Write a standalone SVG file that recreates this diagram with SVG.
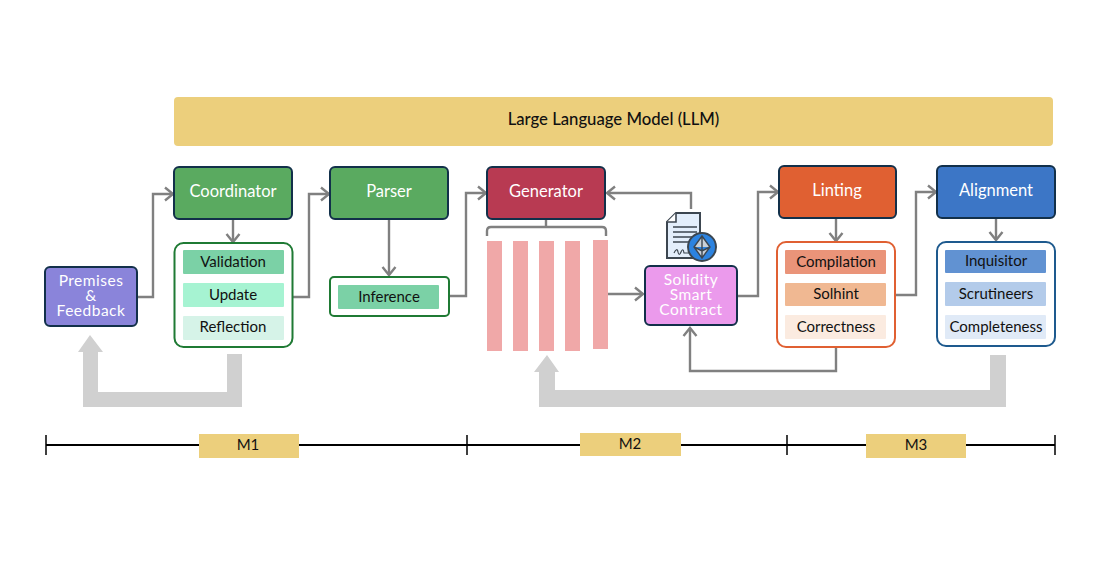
<svg xmlns="http://www.w3.org/2000/svg" width="1114" height="562" viewBox="0 0 1114 562">
<style>
text{font-family:Lato,"Liberation Sans",sans-serif;text-anchor:middle;dominant-baseline:central}
.w{fill:#fff;font-size:16.5px}
.s{fill:#fff;font-size:15.5px;letter-spacing:.5px}
.b{fill:#111;font-size:15px}
.hd{stroke:#12304a;stroke-width:2}
.c{fill:none;stroke:#808080;stroke-width:2.4}
.g{fill:#d0d0d0}
.y{fill:#eccf7c}
.t{stroke:#000;fill:none}
.p{fill:#f0a8a8}
</style>
<defs>
<marker id="a" markerUnits="userSpaceOnUse" markerWidth="14" markerHeight="16" refX="11" refY="8" orient="auto"><path d="M3 1.500L11 8L3 14.500" fill="none" stroke="#808080" stroke-width="2.400"/></marker>
</defs>
<rect width="1114" height="562" fill="#fff"/>
<g id="connectors">
<path class="c" marker-end="url(#a)" d="M138 297H153V194H173"/>
<path class="c" marker-end="url(#a)" d="M233 220V242"/>
<path class="c" marker-end="url(#a)" d="M293 297H309V194H329"/>
<path class="c" marker-end="url(#a)" d="M389 220V275"/>
<path class="c" marker-end="url(#a)" d="M449 296H466V193H486"/>
<path class="c" marker-end="url(#a)" d="M691 209V193H607"/>
<path class="c" d="M546 220V227M487 236V231Q487 227 491 227H602Q606 227 606 231V236"/>
<path class="c" marker-end="url(#a)" d="M608 294H643"/>
<path class="c" marker-end="url(#a)" d="M738 296H758V192H778"/>
<path class="c" marker-end="url(#a)" d="M836 219V241"/>
<path class="c" marker-end="url(#a)" d="M896 295H916V192H936"/>
<path class="c" marker-end="url(#a)" d="M996 219V240"/>
<path class="c" marker-end="url(#a)" d="M836 348V371H690V328"/>
<path class="g" d="M242 354V407H83V352H78L90 335L103 352H98V392H227V354Z"/>
<path class="g" d="M1006 355V407H539V372H534L547 355L559 372H555V390H990V355Z"/>
</g>
<g id="llm"><rect x="174" y="97" width="879" height="49" rx="4" class="y"/><text x="613.500" y="119" class="b" style="font-size:16.700px;font-weight:500">Large Language Model (LLM)</text></g>
<g id="premises"><rect x="45" y="267" width="92" height="59" rx="5" fill="#8a84da" class="hd"/><text x="91" y="280" class="s">Premises</text><text x="91" y="295" class="s">&amp;</text><text x="91" y="310" class="s">Feedback</text></g>
<g id="coordinator"><rect x="174" y="167" width="118" height="52" rx="5" fill="#5aaa60" class="hd"/><text x="233" y="191" class="w">Coordinator</text></g>
<g id="coordinator-items"><rect x="174.500" y="243" width="118" height="104" rx="9" fill="#fff" stroke="#1f7a34" stroke-width="2"/>
<rect x="183" y="250" width="101" height="24" rx="1" fill="#7bd1a6"/><text x="233" y="261" class="b">Validation</text>
<rect x="183" y="283" width="101" height="24" rx="1" fill="#a6f3d2"/><text x="233" y="293.500" class="b">Update</text>
<rect x="183" y="316" width="101" height="24" rx="1" fill="#d6f3e8"/><text x="233" y="326" class="b">Reflection</text></g>
<g id="parser"><rect x="330" y="167" width="118" height="52" rx="5" fill="#5aaa60" class="hd"/><text x="389" y="191" class="w">Parser</text></g>
<g id="inference"><rect x="330" y="277" width="119" height="39" rx="4" fill="#fff" stroke="#1f7a34" stroke-width="2"/><rect x="338" y="285" width="101" height="24" rx="1" fill="#7bd1a6"/><text x="389" y="295.500" class="b">Inference</text></g>
<g id="generator"><rect x="487" y="167" width="118" height="52" rx="5" fill="#b83a52" class="hd"/><text x="546" y="191" class="w">Generator</text></g>
<g id="bars"><rect class="p" x="487" y="241" width="15" height="110"/><rect class="p" x="513" y="241" width="15" height="110"/><rect class="p" x="539" y="241" width="15" height="110"/><rect class="p" x="565" y="241" width="15" height="110"/><rect class="p" x="593" y="240" width="15" height="109"/></g>
<g id="icon">
<path d="M676 213H700V258H667V222Z" fill="#e3eefb" stroke="#3c4650" stroke-width="2"/><path d="M667 222H676V213" fill="#fff" stroke="#3c4650" stroke-width="1.600"/>
<path d="M673 227H697M673 232H697M673 237H697M673 242H691" stroke="#3c4650" stroke-width="1.400" fill="none"/>
<path d="M674 253q3 -6 4 -1t3 0t3 1h6" stroke="#3c4650" stroke-width="1.200" fill="none"/>
<circle cx="702" cy="247" r="14" fill="#2c83e0" stroke="#3c4650" stroke-width="2"/>
<path d="M702 236L710 247L702 258L694 247ZM694 247L702 251L710 247M702 236V258" fill="#c9d0d8" stroke="#3c4650" stroke-width="1.400"/>
</g>
<g id="solidity"><rect x="645" y="266" width="92" height="59" rx="5" fill="#eb9aec" class="hd"/><text x="691" y="279" class="s">Solidity</text><text x="691" y="294" class="s">Smart</text><text x="691" y="309" class="s">Contract</text></g>
<g id="linting"><rect x="779" y="166" width="117" height="52" rx="5" fill="#e06032" class="hd"/><text x="837" y="190" class="w">Linting</text></g>
<g id="linting-items"><rect x="777" y="242" width="118" height="105" rx="9" fill="#fff" stroke="#e06032" stroke-width="2"/>
<rect x="785" y="250" width="101" height="24" rx="1" fill="#ea9479"/><text x="836" y="260.500" class="b">Compilation</text>
<rect x="785" y="283" width="101" height="23" rx="1" fill="#f0b892"/><text x="836" y="293" class="b">Solhint</text>
<rect x="785" y="315" width="101" height="24" rx="1" fill="#fbebe0"/><text x="836" y="326" class="b">Correctness</text></g>
<g id="alignment"><rect x="937" y="166" width="118" height="52" rx="5" fill="#3c76c6" class="hd"/><text x="996" y="190" class="w">Alignment</text></g>
<g id="alignment-items"><rect x="937" y="242" width="118" height="104" rx="9" fill="#fff" stroke="#1e5a8e" stroke-width="2"/>
<rect x="945" y="250" width="101" height="23" rx="1" fill="#6192d2"/><text x="996" y="260" class="b">Inquisitor</text>
<rect x="945" y="282" width="101" height="24" rx="1" fill="#b3cbea"/><text x="996" y="293" class="b">Scrutineers</text>
<rect x="945" y="315" width="101" height="24" rx="1" fill="#e0eaf7"/><text x="996" y="326" class="b">Completeness</text></g>
<g id="timeline">
<path class="t" stroke-width="2.200" d="M46 445H1055"/>
<path class="t" stroke-width="1.500" d="M46 435V455M467 435V455M787 435V455M1055 435V455"/>
<rect x="199" y="434" width="100" height="24" class="y"/><text x="248" y="444" class="b">M1</text>
<rect x="580" y="433" width="101" height="23" class="y"/><text x="630" y="443" class="b">M2</text>
<rect x="866" y="434" width="100" height="24" class="y"/><text x="916" y="444" class="b">M3</text>
</g>
</svg>
